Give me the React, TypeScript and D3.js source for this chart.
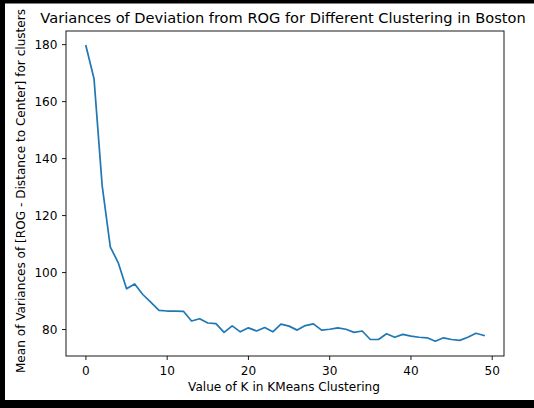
import React from "react";
import * as d3 from "d3";

const kValues = d3.range(0, 50);
const variances = [
  179.6, 168.0, 130.5, 109.0, 103.3, 94.3, 96.0, 92.3, 89.5, 86.7,
  86.5, 86.5, 86.4, 83.0, 83.8, 82.3, 82.1, 79.0, 81.3, 79.2,
  80.6, 79.5, 80.7, 79.2, 81.9, 81.2, 79.8, 81.4, 82.0, 79.8,
  80.1, 80.6, 80.1, 79.0, 79.5, 76.5, 76.5, 78.5, 77.3, 78.3,
  77.7, 77.3, 77.1, 75.9, 77.1, 76.5, 76.2, 77.3, 78.7, 77.9,
];
const xTicks = [0, 10, 20, 30, 40, 50];
const yTicks = [80, 100, 120, 140, 160, 180];

const title = "Variances of Deviation from ROG for Different Clustering in Boston";
const xLabel = "Value of K in KMeans Clustering";
const yLabel = "Mean of Variances of [ROG - Distance to Center] for clusters";

const W = 534, H = 408;
const left = 66, right = 504, top = 31, bottom = 356;
const font = "DejaVu Sans, sans-serif";
const fs = 12.1;

export default function App() {
  // matplotlib style 5% margins around the data
  const xMin = d3.min(kValues)!, xMax = d3.max(kValues)!;
  const yMin = d3.min(variances)!, yMax = d3.max(variances)!;
  const xPad = (xMax - xMin) * 0.05, yPad = (yMax - yMin) * 0.05;

  const x = d3.scaleLinear().domain([xMin - xPad, xMax + xPad]).range([left, right]);
  const y = d3.scaleLinear().domain([yMin - yPad, yMax + yPad]).range([bottom, top]);

  const line = d3.line<number>()
    .x((_, i) => x(kValues[i]))
    .y(d => y(d));

  return (
    <svg width={W} height={H} style={{ position: "absolute", left: 0, top: 0, background: "#fff" }}
      fontFamily={font}>
      <rect x={0} y={0} width={W} height={H} fill="#fff" />
      {/* black frame from the screenshot */}
      <rect x={0} y={0} width={5} height={H} fill="#000" />
      <rect x={0} y={0} width={W} height={3.5} fill="#000" />
      <rect x={0} y={400} width={W} height={8} fill="#000" />

      <text x={283} y={23} textAnchor="middle" fontSize={14.6} fill="#000">{title}</text>

      <path d={line(variances) || ""} fill="none" stroke="#1f77b4" strokeWidth={1.7}
        strokeLinejoin="round" strokeLinecap="square" />

      <rect x={left} y={top} width={right - left} height={bottom - top} fill="none" stroke="#000" strokeWidth={0.9} />

      {xTicks.map(t => (
        <g key={"x" + t} transform={`translate(${x(t)},${bottom})`}>
          <line y2={4} stroke="#000" strokeWidth={0.9} />
          <text y={18.5} textAnchor="middle" fontSize={fs} fill="#000">{t}</text>
        </g>
      ))}
      {yTicks.map(t => (
        <g key={"y" + t} transform={`translate(${left},${y(t)})`}>
          <line x2={-4} stroke="#000" strokeWidth={0.9} />
          <text x={-8.5} dy="0.36em" textAnchor="end" fontSize={fs} fill="#000">{t}</text>
        </g>
      ))}

      <text x={284} y={391} textAnchor="middle" fontSize={fs} fill="#000">{xLabel}</text>
      <text transform={`translate(25,191) rotate(-90)`} textAnchor="middle"
        fontSize={fs} fill="#000">{yLabel}</text>
    </svg>
  );
}
